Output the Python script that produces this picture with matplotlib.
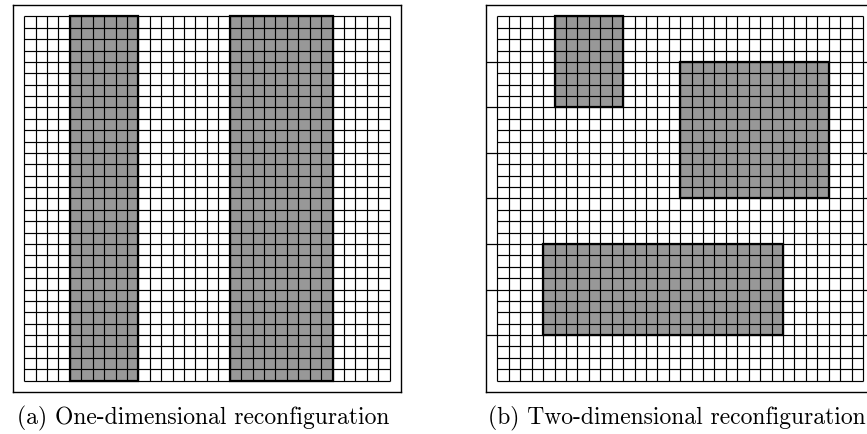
import matplotlib
matplotlib.use("Agg")
import matplotlib.pyplot as plt
from matplotlib.patches import Rectangle

# grid size (cells per side)
N_CELLS = 32

# reconfigured regions as (column, row, width, height) in cells
blocks_1d = [(4, 0, 6, 32), (18, 0, 9, 32)]
blocks_2d = [(5, 0, 6, 8), (16, 4, 13, 12), (4, 20, 21, 8)]

# row boundaries of the 2D reconfiguration segments
segment_rows = [4, 8, 12, 16, 20, 24, 28]

captions = ["(a) One-dimensional reconfiguration",
            "(b) Two-dimensional reconfiguration"]

FILL = "#989898"


def draw_panel(ax, blocks, segments=None):
    ax.set_xlim(-1, N_CELLS + 1)
    ax.set_ylim(N_CELLS + 1, -1)
    ax.set_xticks([])
    ax.set_yticks([])
    for s in ax.spines.values():
        s.set_linewidth(1.0)
        s.set_color("black")

    for c, r, w, h in blocks:
        ax.add_patch(Rectangle((c, r), w, h, facecolor=FILL, edgecolor="none", zorder=1))

    idx = range(N_CELLS + 1)
    ax.vlines(idx, 0, N_CELLS, color="black", linewidth=0.85, zorder=2)
    ax.hlines(idx, 0, N_CELLS, color="black", linewidth=0.85, zorder=2)

    for c, r, w, h in blocks:
        ax.add_patch(Rectangle((c, r), w, h, facecolor="none", edgecolor="black",
                               linewidth=1.6, zorder=3))

    if segments:
        ax.hlines(segments, -1, 0, color="black", linewidth=0.9, zorder=2)
        ax.hlines(segments, N_CELLS, N_CELLS + 1, color="black", linewidth=0.9, zorder=2)


fig = plt.figure(figsize=(8.67, 4.34), dpi=100)
ax1 = fig.add_axes([0.0147, 0.0968, 0.4479, 0.8917])
ax2 = fig.add_axes([0.5606, 0.0968, 0.4479, 0.8917])

draw_panel(ax1, blocks_1d)
draw_panel(ax2, blocks_2d, segment_rows)

for ax, txt in zip([ax1, ax2], captions):
    bb = ax.get_position()
    fig.text((bb.x0 + bb.x1) / 2 - 0.004, 0.036, txt, ha="center", va="center",
             fontsize=17, family="cmr10")

fig.savefig("out.png", dpi=100)
